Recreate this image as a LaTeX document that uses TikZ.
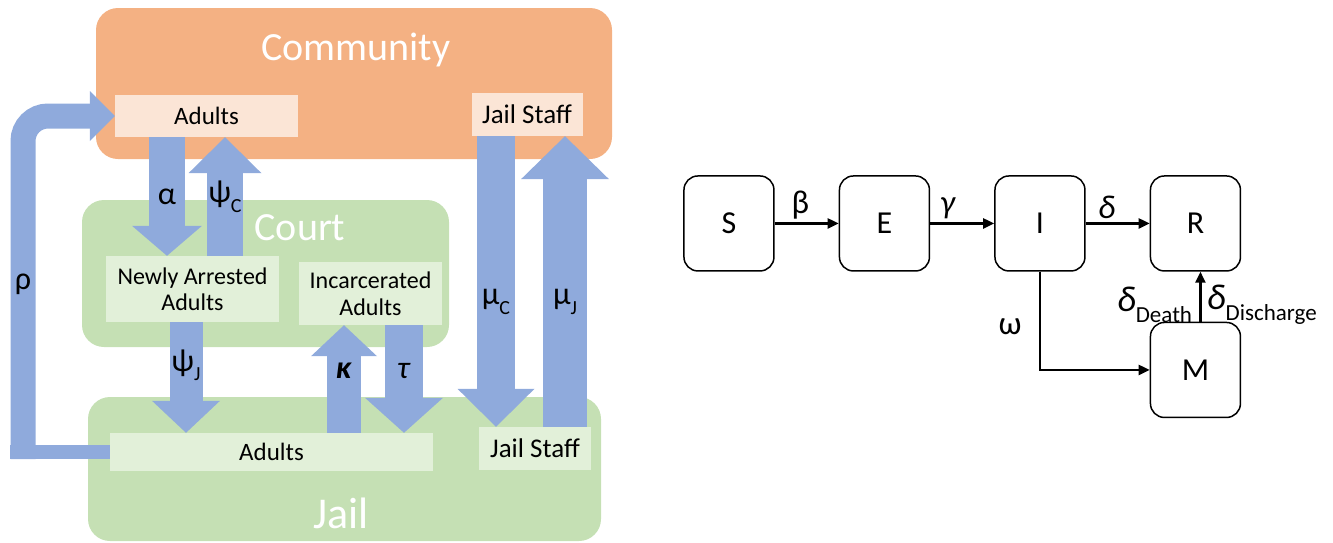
\documentclass[tikz,border=0pt]{standalone}
\usepackage{fontspec}
\setmainfont{Carlito}
\usetikzlibrary{arrows.meta}
\usetikzlibrary{positioning}
\usetikzlibrary{matrix}

\definecolor{commorange}{HTML}{F4B183}
\definecolor{commlight}{HTML}{FBE5D6}
\definecolor{courtgreen}{HTML}{C5E0B4}
\definecolor{courtlight}{HTML}{E2F0D9}
\definecolor{flowblue}{HTML}{8FAADC}

\newcommand{\lowsub}[2][20]{\raisebox{-0.3em}{\fontsize{#1}{#1}\selectfont #2}}

\tikzset{
  region/.style={rounded corners=22pt, inner sep=0pt},
  title/.style={text=white, font=\fontsize{40}{44}\selectfont},
  pop/.style={inner sep=0pt, align=center, font=\fontsize{25}{27}\selectfont},
  rate/.style={font=\fontsize{32}{36}\selectfont},
  flow/.style n args={3}{draw=flowblue, line width=#1,
    -{Triangle[width=#2, length=#3, line width'=0pt]}},
  comp/.style={draw, line width=1.5pt, rounded corners=14pt,
    minimum width=90pt, minimum height=95pt, font=\fontsize{32}{36}\selectfont},
  link/.style={line width=2.2pt, -{Triangle[length=11pt, width=10pt]}},
  param/.style={font=\fontsize{33}{36}\selectfont},
}

\begin{document}
\begin{tikzpicture}[x=1pt, y=-1pt]
        \useasboundingbox (0,0) rectangle (1333,542);
        %% Settings: community, court, jail
        \node[region, fill=commorange, minimum width=516pt, minimum height=151pt] (community) at (354,83.5) {};
        \node[title] (commTitle) at (356,50) {Community};
        \node[pop, fill=commlight, minimum width=183pt, minimum height=42pt] (adultsC) at (206.5,116) {Adults};
        \node[pop, fill=commlight, minimum width=111pt, minimum height=43pt, font=\fontsize{27}{29}\selectfont] (staffC) at (527,114.5) {Jail Staff};
        \node[region, fill=courtgreen, minimum width=367pt, minimum height=147pt] (court) at (265.5,273.5) {};
        \node[title] (courtTitle) at (300,228) {Court};
        \node[pop, fill=courtlight, minimum width=173pt, minimum height=66pt, font=\fontsize{24}{26}\selectfont] (newA) at (192.5,289) {Newly Arrested\\Adults};
        \node[pop, fill=courtlight, minimum width=143pt, minimum height=63pt, font=\fontsize{24}{27}\selectfont] (incA) at (370.5,293.5) {Incarcerated\\Adults};
        \node[region, fill=courtgreen, minimum width=513pt, minimum height=144pt] (jail) at (344.5,469) {};
        \node[title, font=\fontsize{44}{48}\selectfont] (jailTitle) at (341,513) {Jail};
        \node[pop, fill=courtlight, minimum width=323pt, minimum height=38pt] (jailA) at (271.5,452) {Adults};
        \node[pop, fill=courtlight, minimum width=112pt, minimum height=43pt, font=\fontsize{27}{29}\selectfont] (staffJ) at (535,448.5) {Jail Staff};

        %% Columns of the flows
        \coordinate (alphaCol) at (167,0);
        \coordinate (psiCCol) at (225,0);
        \coordinate (psiJCol) at (186,0);
        \coordinate (kappaCol) at (344,0);
        \coordinate (tauCol) at (404,0);
        \coordinate (muCCol) at (496,0);
        \coordinate (muJCol) at (565,0);
        \coordinate (rhoBase) at (23,459);
        \coordinate (rhoEdge) at (10,0);

        %% Flows between the settings
        \draw[flow={36pt}{70pt}{30pt}] (adultsC.south -| alphaCol) -- node[rate] (alphaLbl) {α} (newA.north -| alphaCol);
        \draw[flow={36pt}{73pt}{36pt}] (newA.north -| psiCCol) -- node[rate] (psiCLbl) {ψ\lowsub{C}} (adultsC.south -| psiCCol);
        \draw[flow={33pt}{68pt}{32pt}] (newA.south -| psiJCol) -- node[rate, pos=.39] (psiJLbl) {ψ\lowsub{J}} (jailA.north -| psiJCol);
        \draw[flow={34pt}{66pt}{31pt}] (jailA.north -| kappaCol) -- node[rate, pos=.58] (kappaLbl) {\textbf{\textit{κ}}} (incA.south -| kappaCol);
        \draw[flow={38pt}{78pt}{35pt}] (incA.south -| tauCol) -- node[rate, pos=.43] (tauLbl) {\textit{τ}} (jailA.north -| tauCol);
        \draw[flow={38pt}{77pt}{38pt}] (staffC.south -| muCCol) -- node[rate, pos=.57] (muCLbl) {μ\lowsub{C}} (staffJ.north -| muCCol);
        \draw[flow={44pt}{88pt}{43pt}] (staffJ.north -| muJCol) -- node[rate, pos=.43] (muJLbl) {μ\lowsub{J}} (staffC.south -| muJCol);
        \draw[draw=flowblue, line width=14pt] (jailA.west) -- (jailA.west -| rhoEdge);
        \draw[flow={25pt}{50pt}{25pt}, rounded corners=25pt] (rhoBase) |- node[rate, pos=.255] (rhoLbl) {ρ} (adultsC.west);

        %% Compartment model
        \matrix (seir) [column sep=64pt, row sep=50pt, anchor=north west, inner sep=0pt] at (683,175)
        {
          \node[comp] (S) {S}; & \node[comp] (E) {E}; & \node[comp] (I) {I}; & \node[comp] (R) {R}; \\
          & & & \node[comp] (M) {M}; \\
        };
        \draw[link] (S) -- node[param, above=0pt, pos=.4] (betaLbl) {β} (E);
        \draw[link] (E) -- node[param, above=0pt, pos=.28] (gammaLbl) {\textit{γ}} (I);
        \draw[link] (I) -- node[param, above=0pt, pos=.33] (deltaLbl) {\textit{δ}} (R);
        \draw[link] (I) |- node[param, left=14pt, pos=.28] (omegaLbl) {ω} (M);
        \draw[link] ([xshift=5pt]M.north) -- node[param, font=\fontsize{36}{38}\selectfont, left=4pt, yshift=-8pt] (deathLbl) {\textit{δ}\lowsub[23]{Death}}
          node[param, font=\fontsize{36}{38}\selectfont, right=2pt, yshift=-8pt] (dischLbl) {\textit{δ}\lowsub[23]{Discharge}} ([xshift=5pt]R.south);
      \end{tikzpicture}
\end{document}
